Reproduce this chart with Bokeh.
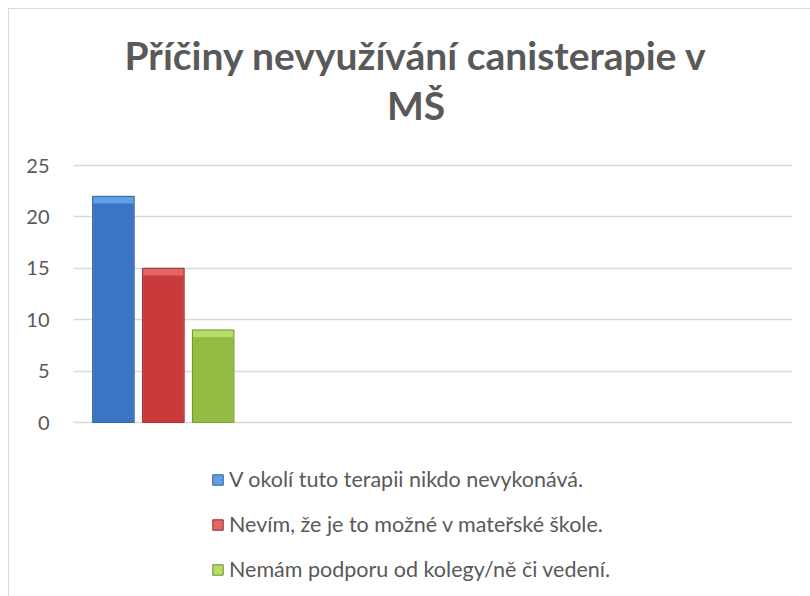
from bokeh.plotting import figure
from bokeh.models import Range1d, FixedTicker, Label, Legend, LegendItem, ColumnDataSource
from bokeh.embed import file_html
from bokeh.resources import INLINE

# ---- data ----
title_lines = ["Příčiny nevyužívání canisterapie v", "MŠ"]
series_names = [
    "V okolí tuto terapii nikdo nevykonává.",
    "Nevím, že je to možné v mateřské škole.",
    "Nemám podporu od kolegy/ně či vedení.",
]
series_values = [22, 15, 9]
y_ticks = [0, 5, 10, 15, 20, 25]
n_slots = 4  # category slots on the (hidden) x axis; only the first holds data

# ---- styles ----
body_colors = ["#3b74c2", "#c93b3b", "#93bd42"]
top_colors = ["#62a0e6", "#e56464", "#b8dc68"]
edge_colors = ["#2b5a99", "#8f2828", "#6b8c2c"]
dodge = [-0.278, 0.0, 0.277]
bar_w = 0.231
text_col = "#595959"
grid_col = "#d9d9d9"
FONT = "Lato"

# frame spans the full chart height so title and legend are drawn inside it;
# y range chosen so that 0..25 lies where the plot area of the reference is
px_per_unit = 257 / 25
y_lo = -175 / px_per_unit
y_hi = 25 + 156 / px_per_unit

p = figure(width=802, height=588, output_backend="svg", toolbar_location=None,
           x_range=Range1d(0, n_slots), y_range=Range1d(y_lo, y_hi),
           min_border_left=64, min_border_right=19, min_border_top=0, min_border_bottom=0)
p.styles = {"margin-left": "8px", "margin-top": "8px",
            "border-top": "1px solid #d9d9d9", "border-left": "1px solid #d9d9d9"}
p.outline_line_color = None
p.background_fill_color = "white"
p.border_fill_color = "white"
p.xaxis.visible = False
p.xgrid.visible = False
p.ygrid.grid_line_color = grid_col
p.ygrid.grid_line_width = 1.3
p.yaxis.ticker = FixedTicker(ticks=y_ticks)
p.yaxis.axis_line_color = None
p.yaxis.major_tick_line_color = None
p.yaxis.minor_tick_line_color = None
p.yaxis.major_tick_out = 0
p.yaxis.major_tick_in = 0
p.yaxis.major_label_standoff = 24
p.yaxis.major_label_text_font = FONT
p.yaxis.major_label_text_font_size = "20px"
p.yaxis.major_label_text_color = text_col

items = []
for i, (name, v) in enumerate(zip(series_names, series_values)):
    x = 0.5 + dodge[i]
    src = ColumnDataSource(dict(x=[x], top=[v], inner=[v - 0.7]))
    r = p.vbar(x="x", top="top", bottom=0, width=bar_w, source=src,
               fill_color=top_colors[i], line_color=edge_colors[i], line_width=1)
    p.vbar(x="x", top="inner", bottom=0, width=bar_w * 0.97, source=src,
           fill_color=body_colors[i], line_color=None)
    items.append(LegendItem(label=name, renderers=[r]))

legend = Legend(items=items, location=(138, 15), orientation="vertical",
                glyph_width=13, glyph_height=13, label_standoff=5,
                label_height=24, spacing=19, padding=0, margin=0,
                border_line_color=None, background_fill_alpha=0,
                label_text_font=FONT, label_text_font_size="21.5px",
                label_text_color=text_col)
p.add_layout(legend, "center")

# title as two centered lines (frame-relative screen units)
for line, yy in zip(title_lines, [543, 493]):
    p.add_layout(Label(x=342.5, y=yy, x_units="screen", y_units="screen", text=line,
                       text_align="center", text_baseline="alphabetic",
                       text_font=FONT, text_font_style="bold", text_font_size="39px",
                       text_color=text_col))

open("out.html", "w").write(file_html(p, INLINE))
